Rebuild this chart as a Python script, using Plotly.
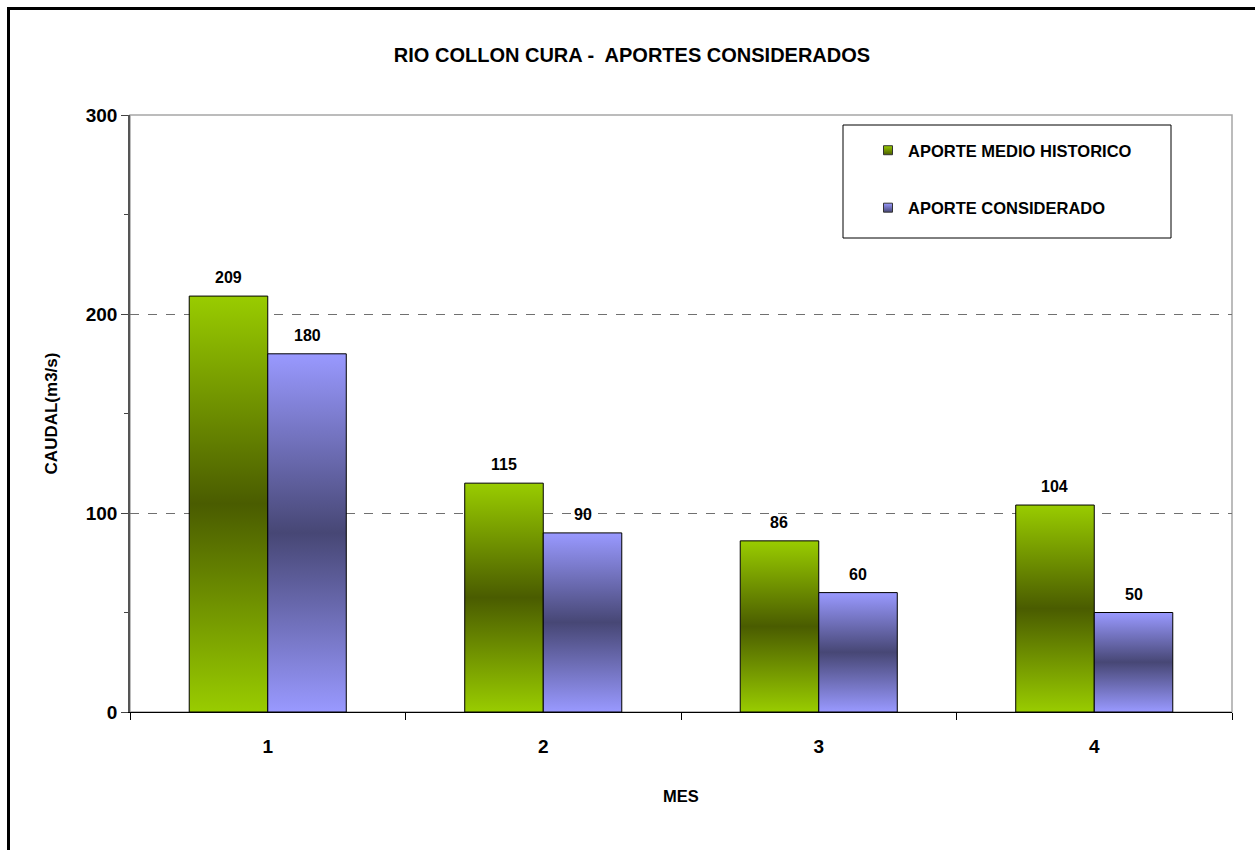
import plotly.graph_objects as go

# Monthly inflows for the Collón Curá river (m3/s)
meses = [1, 2, 3, 4]
mes_labels = ["1", "2", "3", "4"]
aporte_medio_historico = [209, 115, 86, 104]
aporte_considerado = [180, 90, 60, 50]

series_names = ["APORTE MEDIO HISTORICO", "APORTE CONSIDERADO"]
light_colors = ["#99CC00", "#9999FF"]
dark_colors = ["#4A5C00", "#474775"]

y_ticks = [0, 100, 200, 300]

BAR_W = 0.285
FONT = "Liberation Sans, Arial, sans-serif"

W, H = 1255, 850
ML, MR, MT, MB = 130, 23, 115, 138
PW, PH = W - ML - MR, H - MT - MB


def px_x(px):
    return (px - ML) / PW


def px_y(py):
    return (H - MB - py) / PH


fig = go.Figure()

series_values = [aporte_medio_historico, aporte_considerado]
offsets = [-BAR_W, 0.0]

for s, (vals, off) in enumerate(zip(series_values, offsets)):
    scale = [[0, light_colors[s]], [0.5, dark_colors[s]], [1, light_colors[s]]]
    for m, v in zip(meses, vals):
        x0, x1 = m + off, m + off + BAR_W
        fig.add_trace(go.Scatter(
            x=[x0, x0, x1, x1, x0],
            y=[0, v, v, 0, 0],
            mode="lines",
            fill="toself",
            fillgradient=dict(type="vertical", colorscale=scale),
            line=dict(color="black", width=1),
            showlegend=False,
            hoverinfo="skip",
        ))
        fig.add_annotation(
            x=m + off + BAR_W / 2, y=v, text=f"<b>{v}</b>",
            showarrow=False, yanchor="bottom", yshift=8,
            font=dict(family=FONT, size=16, color="black"),
        )
    # legend entry
    fig.add_trace(go.Scatter(
        x=[None], y=[None], mode="markers", name=f"<b>{series_names[s]}</b>",
        marker=dict(symbol="square", size=9, color=light_colors[s],
                    gradient=dict(type="vertical", color=dark_colors[s]),
                    line=dict(color="#333333", width=1)),
        legendgroup=series_names[s],
    ))

shapes = [
    # plot-area frame
    dict(type="rect", xref="paper", yref="paper", x0=0, x1=1, y0=0, y1=1,
         line=dict(color="#A6A6A6", width=1.5), layer="below"),
    # legend box
    dict(type="rect", xref="paper", yref="paper",
         x0=px_x(843), x1=px_x(1171), y0=px_y(238), y1=px_y(125),
         line=dict(color="black", width=1), fillcolor="white", layer="above"),
    # outer chart frame
    dict(type="rect", xref="paper", yref="paper",
         x0=px_x(8.5), x1=px_x(1265), y0=px_y(870), y1=px_y(8.5),
         line=dict(color="black", width=3)),
]

fig.update_layout(
    width=W, height=H,
    margin=dict(l=ML, r=MR, t=MT, b=MB),
    paper_bgcolor="white", plot_bgcolor="white",
    font=dict(family=FONT, color="black"),
    title=dict(text="<b>RIO COLLON CURA -  APORTES CONSIDERADOS</b>",
               x=px_x(632), xref="paper", xanchor="center",
               y=1 - 55 / H, yanchor="middle",
               font=dict(family=FONT, size=20, color="black")),
    shapes=shapes,
    showlegend=True,
    legend=dict(x=px_x(868), y=px_y(133), xanchor="left", yanchor="top",
                bgcolor="rgba(0,0,0,0)", borderwidth=0,
                traceorder="grouped", tracegroupgap=33,
                font=dict(family=FONT, size=16.5, color="black"),
                itemwidth=30),
    xaxis=dict(
        range=[0.5, 4.5], tickvals=meses, ticktext=[f"<b>{t}</b>" for t in mes_labels],
        ticks="", showgrid=False, zeroline=False,
        showline=True, linecolor="black", linewidth=1,
        tickfont=dict(family=FONT, size=19, color="black"),
        ticklabelstandoff=17,
        minor=dict(tick0=0.5, dtick=1, ticks="outside", ticklen=7,
                   tickcolor="black", showgrid=False),
        title=dict(text="<b>MES</b>", standoff=34,
                   font=dict(family=FONT, size=16.5, color="black")),
        fixedrange=True,
    ),
    yaxis=dict(
        range=[0, 300], tickvals=y_ticks, ticktext=[f"<b>{t}</b>" for t in y_ticks],
        ticks="outside", ticklen=7, tickcolor="#444444",
        showgrid=True, gridcolor="#707070", griddash="dash", gridwidth=1,
        zeroline=False, showline=True, linecolor="#555555", linewidth=1.5,
        tickfont=dict(family=FONT, size=19, color="black"),
        minor=dict(dtick=50, ticks="outside", ticklen=4, tickcolor="#444444",
                   showgrid=False),
        title=dict(text="<b>CAUDAL(m3/s)</b>", standoff=24,
                   font=dict(family=FONT, size=17, color="black")),
        fixedrange=True,
    ),
)

fig.write_html("out.html")
